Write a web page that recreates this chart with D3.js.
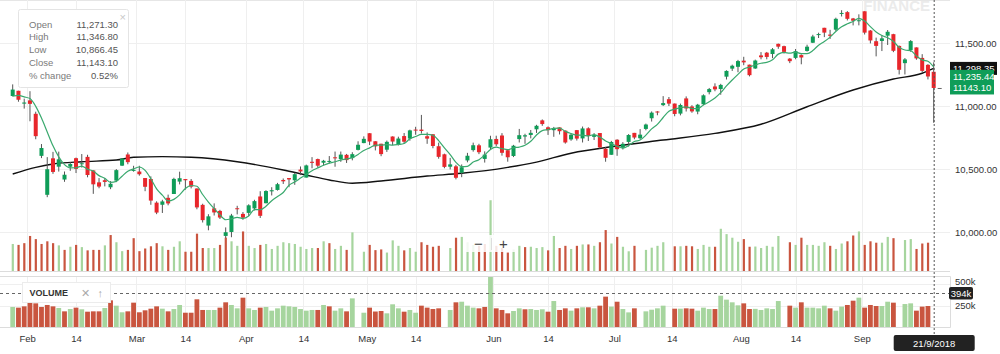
<!DOCTYPE html>
<html>
<head>
<meta charset="utf-8">
<script src="https://cdn.jsdelivr.net/npm/d3@7"></script>
<style>
  body { margin: 0; background: #fff; }
  svg { display: block; font-family: "Helvetica Neue", Helvetica, Arial, "Liberation Sans", sans-serif; }
</style>
</head>
<body>
<div id="chart"></div>
<script>
// trading days shown on the chart
const dates = [
  '2018-01-29','2018-01-30','2018-01-31','2018-02-01','2018-02-02','2018-02-05','2018-02-06','2018-02-07','2018-02-08','2018-02-09',
  '2018-02-12','2018-02-14','2018-02-15','2018-02-16','2018-02-19','2018-02-20','2018-02-21','2018-02-22','2018-02-23','2018-02-26',
  '2018-02-27','2018-02-28','2018-03-01','2018-03-05','2018-03-06','2018-03-07','2018-03-08','2018-03-09','2018-03-12','2018-03-13',
  '2018-03-14','2018-03-15','2018-03-16','2018-03-19','2018-03-20','2018-03-21','2018-03-22','2018-03-23','2018-03-26','2018-03-27',
  '2018-03-28','2018-04-02','2018-04-03','2018-04-04','2018-04-05','2018-04-06','2018-04-09','2018-04-10','2018-04-11','2018-04-12',
  '2018-04-13','2018-04-16','2018-04-17','2018-04-18','2018-04-19','2018-04-20','2018-04-23','2018-04-24','2018-04-25','2018-04-26',
  '2018-04-27','2018-04-30','2018-05-02','2018-05-03','2018-05-04','2018-05-07','2018-05-08','2018-05-09','2018-05-10','2018-05-11',
  '2018-05-14','2018-05-15','2018-05-16','2018-05-17','2018-05-18','2018-05-21','2018-05-22','2018-05-23','2018-05-24','2018-05-25',
  '2018-05-28','2018-05-29','2018-05-30','2018-05-31','2018-06-01','2018-06-04','2018-06-05','2018-06-06','2018-06-07','2018-06-08',
  '2018-06-11','2018-06-12','2018-06-13','2018-06-14','2018-06-15','2018-06-18','2018-06-19','2018-06-20','2018-06-21','2018-06-22',
  '2018-06-25','2018-06-26','2018-06-27','2018-06-28','2018-06-29','2018-07-02','2018-07-03','2018-07-04','2018-07-05','2018-07-06',
  '2018-07-09','2018-07-10','2018-07-11','2018-07-12','2018-07-13','2018-07-16','2018-07-17','2018-07-18','2018-07-19','2018-07-20',
  '2018-07-23','2018-07-24','2018-07-25','2018-07-26','2018-07-27','2018-07-30','2018-07-31','2018-08-01','2018-08-02','2018-08-03',
  '2018-08-06','2018-08-07','2018-08-08','2018-08-09','2018-08-10','2018-08-13','2018-08-14','2018-08-16','2018-08-17','2018-08-20',
  '2018-08-21','2018-08-23','2018-08-24','2018-08-27','2018-08-28','2018-08-29','2018-08-30','2018-08-31','2018-09-03','2018-09-04',
  '2018-09-05','2018-09-06','2018-09-07','2018-09-10','2018-09-11','2018-09-12','2018-09-14','2018-09-17','2018-09-18','2018-09-19',
  '2018-09-21'
];

const open = [
  11079.35, 11120.85, 11018.80, 11044.55, 10938.20, 10604.30, 10295.15, 10584.70, 10518.50, 10416.50,
  10518.15, 10585.75, 10537.90, 10596.20, 10488.90, 10394.00, 10411.00, 10355.00, 10408.10, 10526.55,
  10615.20, 10488.95, 10479.85, 10428.30, 10420.50, 10232.95, 10216.25, 10271.30, 10301.60, 10400.00,
  10420.00, 10405.45, 10345.15, 10215.35, 10051.10, 10187.90, 10167.30, 9968.80, 10000.10, 10188.45,
  10143.60, 10151.65, 10186.90, 10282.00, 10228.45, 10322.75, 10333.70, 10412.90, 10428.15, 10410.65,
  10495.25, 10431.90, 10557.30, 10578.90, 10550.00, 10560.40, 10592.80, 10578.90, 10612.40, 10586.50,
  10651.65, 10705.75, 10783.85, 10720.15, 10700.45, 10653.15, 10757.90, 10693.35, 10761.40, 10741.40,
  10812.75, 10812.70, 10760.00, 10775.60, 10680.60, 10616.70, 10518.00, 10521.10, 10470.00, 10568.00,
  10650.00, 10688.00, 10580.00, 10670.10, 10738.45, 10765.85, 10649.00, 10603.35, 10737.55, 10757.90,
  10770.00, 10815.00, 10886.00, 10830.90, 10808.00, 10830.00, 10804.85, 10734.65, 10808.45, 10742.70,
  10822.90, 10755.00, 10785.45, 10660.70, 10612.85, 10732.35, 10668.65, 10715.00, 10786.70, 10744.15,
  10818.00, 10902.75, 10956.40, 11006.95, 11054.30, 11019.35, 10939.70, 11060.20, 10996.10, 10956.00,
  11014.10, 11109.80, 11155.00, 11135.00, 11232.75, 11296.50, 11311.00, 11359.80, 11328.10, 11297.80,
  11401.50, 11423.15, 11412.50, 11493.25, 11474.95, 11376.00, 11381.70, 11404.00, 11437.15, 11502.10,
  11563.00, 11620.70, 11566.60, 11605.85, 11731.95, 11744.95, 11694.75, 11675.85, 11751.80, 11598.75,
  11514.15, 11516.00, 11558.25, 11570.20, 11476.85, 11340.10, 11443.50, 11464.95, 11381.55, 11326.65,
  11271.30
];

const high = [
  11171.55, 11121.10, 11058.40, 11117.35, 10954.95, 10698.10, 10594.15, 10636.00, 10637.80, 10480.20,
  10555.50, 10590.55, 10618.90, 10612.90, 10489.35, 10428.00, 10428.00, 10404.00, 10499.10, 10586.50,
  10631.20, 10525.50, 10525.50, 10428.60, 10441.35, 10243.35, 10255.75, 10296.70, 10430.55, 10478.60,
  10420.35, 10420.35, 10346.30, 10224.40, 10141.15, 10227.30, 10175.95, 10036.40, 10143.95, 10207.90,
  10158.35, 10220.10, 10255.65, 10323.90, 10331.80, 10355.35, 10389.80, 10424.85, 10428.15, 10469.80,
  10519.90, 10534.75, 10594.20, 10582.35, 10572.20, 10602.80, 10638.35, 10638.55, 10619.55, 10633.10,
  10719.80, 10759.00, 10784.65, 10720.60, 10700.45, 10725.65, 10759.05, 10756.40, 10785.55, 10812.05,
  10834.85, 10929.20, 10790.45, 10777.25, 10709.10, 10621.70, 10588.25, 10533.05, 10536.05, 10628.00,
  10709.25, 10700.00, 10640.00, 10763.80, 10764.15, 10784.65, 10650.20, 10691.45, 10818.00, 10779.65,
  10809.60, 10850.60, 10893.25, 10837.85, 10834.00, 10830.40, 10805.25, 10781.80, 10809.60, 10837.00,
  10831.05, 10785.00, 10785.45, 10674.75, 10723.05, 10736.15, 10713.30, 10777.15, 10786.70, 10816.35,
  10860.35, 10956.90, 10959.10, 11078.30, 11071.35, 11019.50, 11018.95, 11076.20, 11006.50, 11016.75,
  11092.50, 11143.20, 11180.00, 11175.85, 11283.40, 11328.10, 11366.00, 11390.55, 11328.10, 11368.00,
  11427.65, 11428.95, 11459.95, 11495.20, 11478.75, 11380.00, 11452.45, 11410.00, 11486.45, 11565.30,
  11581.75, 11620.70, 11604.60, 11700.95, 11760.20, 11753.20, 11698.80, 11727.65, 11751.80, 11602.55,
  11542.65, 11562.25, 11603.00, 11573.00, 11479.40, 11380.75, 11523.25, 11464.95, 11411.45, 11332.05,
  11346.80
];

const low = [
  11075.95, 11033.90, 10979.30, 10878.80, 10736.10, 10586.50, 10276.30, 10461.55, 10479.55, 10398.20,
  10485.60, 10468.00, 10511.40, 10434.05, 10302.75, 10347.00, 10362.00, 10340.00, 10396.00, 10523.60,
  10537.60, 10478.60, 10447.15, 10323.90, 10215.90, 10141.55, 10151.00, 10211.90, 10301.60, 10377.85,
  10336.00, 10346.20, 10180.25, 10075.30, 10013.60, 10130.95, 10103.10, 9951.90, 9958.55, 10139.70,
  10096.50, 10127.75, 10171.20, 10111.30, 10227.45, 10290.00, 10328.50, 10381.10, 10355.60, 10374.50,
  10451.50, 10432.00, 10505.80, 10509.70, 10528.00, 10544.00, 10518.00, 10557.00, 10548.00, 10568.80,
  10647.55, 10704.60, 10689.80, 10647.45, 10601.60, 10635.65, 10689.40, 10686.35, 10699.60, 10724.45,
  10771.75, 10781.40, 10699.70, 10664.60, 10581.80, 10505.80, 10496.60, 10417.80, 10435.00, 10553.00,
  10637.80, 10618.00, 10551.00, 10655.30, 10681.00, 10605.80, 10558.00, 10594.55, 10710.45, 10699.90,
  10743.15, 10786.00, 10842.65, 10770.35, 10755.70, 10774.10, 10701.20, 10724.05, 10725.90, 10710.45,
  10722.25, 10730.00, 10661.25, 10557.70, 10612.35, 10604.65, 10654.75, 10677.75, 10736.10, 10735.05,
  10807.05, 10876.65, 10926.35, 10999.65, 10999.55, 10918.45, 10925.60, 10956.30, 10946.20, 10934.35,
  11006.95, 11092.50, 11117.00, 11089.30, 11210.35, 11278.35, 11267.75, 11323.60, 11234.95, 11294.55,
  11370.60, 11370.60, 11379.30, 11454.10, 11416.10, 11340.30, 11370.80, 11331.00, 11431.70, 11499.65,
  11539.60, 11546.70, 11532.00, 11595.60, 11710.50, 11678.85, 11639.70, 11640.10, 11567.40, 11496.85,
  11393.85, 11436.05, 11484.40, 11427.30, 11250.20, 11250.20, 11430.55, 11366.90, 11268.95, 11210.90,
  10866.45
];

const close = [
  11130.40, 11049.65, 11027.70, 11016.90, 10760.60, 10666.55, 10498.25, 10476.70, 10576.85, 10454.55,
  10539.75, 10500.90, 10545.50, 10452.30, 10378.40, 10360.40, 10397.45, 10382.70, 10491.05, 10582.60,
  10554.30, 10492.85, 10458.35, 10358.85, 10249.25, 10154.20, 10242.65, 10226.85, 10421.40, 10426.85,
  10410.90, 10360.15, 10195.15, 10094.25, 10124.35, 10155.25, 10114.75, 9998.05, 10130.65, 10184.15,
  10113.70, 10211.80, 10245.00, 10128.40, 10325.15, 10331.60, 10379.35, 10402.25, 10417.15, 10458.65,
  10480.60, 10528.35, 10548.70, 10526.20, 10565.30, 10564.05, 10584.70, 10614.35, 10570.55, 10617.80,
  10692.30, 10739.35, 10718.05, 10679.65, 10618.25, 10715.50, 10717.80, 10741.70, 10716.55, 10806.50,
  10806.60, 10801.85, 10741.10, 10682.70, 10596.40, 10516.70, 10536.70, 10430.35, 10513.85, 10605.15,
  10688.65, 10633.30, 10614.35, 10736.15, 10696.20, 10628.50, 10593.15, 10684.65, 10768.35, 10767.65,
  10786.95, 10842.85, 10856.70, 10808.05, 10817.70, 10799.85, 10710.45, 10772.05, 10741.10, 10821.85,
  10762.45, 10769.15, 10671.40, 10589.10, 10714.30, 10657.30, 10699.90, 10769.90, 10749.75, 10772.65,
  10852.90, 10947.25, 10948.30, 11023.20, 11018.90, 10936.85, 11008.05, 10980.45, 10957.10, 11010.20,
  11084.75, 11134.30, 11132.00, 11167.30, 11278.35, 11319.55, 11356.50, 11346.20, 11244.70, 11360.80,
  11387.10, 11389.45, 11450.00, 11470.70, 11429.50, 11355.75, 11435.10, 11385.05, 11470.75, 11551.75,
  11570.90, 11582.35, 11557.10, 11691.95, 11738.50, 11691.90, 11676.80, 11680.50, 11582.35, 11520.30,
  11476.95, 11536.90, 11589.10, 11438.10, 11287.50, 11369.90, 11515.20, 11377.75, 11278.90, 11234.35,
  11143.10
];

// closes of the four sessions before the first candle (for the 5-day average)
const priorCloses = [11016.90, 11083.70, 11086.00, 11069.65];

// volume in thousands, null where no bar is drawn
const volume = [
  233, 225, 240, 302, 275, 233, 256, 240, 221, 182,
  209, 225, 206, 178, 182, 182, 221, 310, 248, 171,
  182, 283, 171, 194, 213, 240, 213, 182, 209, 256,
  166, 166, 322, 198, 198, 198, 225, 287, 256, 217,
  341, 217, 198, 225, 233, 190, 217, 248, 240, 233,
  209, 190, 198, 198, 256, 240, 190, 217, 182, 333,
  null, 166, 225, 180, 186, 159, 264, 217, 178, 198,
  166, 248, 225, 209, 217, null, 198, 287, 294, 248,
  225, 217, 233, 610, 217, 198, 159, 186, 217, 206,
  209, 198, 206, 178, 302, 198, 217, 190, 217, 229,
  229, 217, 248, 353, 237, 294, 209, 170, 217, null,
  182, 201, 217, 248, null, 213, 213, 217, 213, 190,
  225, 209, 209, 364, 318, 287, 252, 275, 209, 211,
  198, 217, 209, 302, null, 248, 225, 287, 225, 225,
  217, 248, 217, 190, 237, 256, 306, 341, 225, 256,
  244, 244, 294, 283, null, 267, 275, 190, 237, 244,
  null
];

// long moving average (black line)
const maDates = [
  '2018-01-29','2018-02-02','2018-02-07','2018-02-15','2018-02-23','2018-02-28','2018-03-08','2018-03-15',
  '2018-03-27','2018-04-10','2018-04-16','2018-04-20','2018-04-26','2018-05-04','2018-05-16','2018-05-24',
  '2018-06-05','2018-06-12','2018-06-20','2018-07-02','2018-07-12','2018-07-25','2018-08-06','2018-08-17',
  '2018-08-30','2018-09-10','2018-09-18','2018-09-21'
];
const maValues = [
  10460, 10513, 10540, 10558, 10571, 10593, 10598, 10593,
  10558, 10492, 10452, 10413, 10387, 10405, 10444, 10466,
  10513, 10555, 10625, 10683, 10730, 10783, 10855, 10994,
  11127, 11214, 11260, 11298.35
];

const tickDates = ['2018-02-01','2018-02-14','2018-03-01','2018-03-14','2018-04-01','2018-04-14','2018-05-01','2018-05-14',
  '2018-06-01','2018-06-14','2018-07-01','2018-07-14','2018-08-01','2018-08-14','2018-09-01'];
const tickLabels = ['Feb','14','Mar','14','Apr','14','May','14','Jun','14','Jul','14','Aug','14','Sep'];

const priceTicks = [10000, 10500, 11000, 11500];
const volumeTicks = [250, 500];

const infoLabels = ['Open', 'High', 'Low', 'Close', '% change'];
const infoValues = ['11,271.30', '11,346.80', '10,866.45', '11,143.10', '0.52%'];

const markerValues = [11298.35, 11235.44, 11143.10];
const markerTexts = ['11,298.35', '11,235.44', '11143.10'];
const hoverVolume = 394;
const hoverLabel = '21/9/2018';

function drawChart(containerId)
{
    const width = 1000;
    const height = 354;
    const plotRight = 950;
    const mainBottom = 271;
    const paneTop = 277;
    const paneBottom = 327;
    const fs = 9.5;

    const green = '#0f9d58';
    const red = '#e8262b';
    const volGreen = '#a6d59e';
    const volRed = '#c9553f';
    const grid = '#efefef';

    const svg = d3.select(containerId)
        .append('svg')
        .attr('width', width)
        .attr('height', height);

    // scales
    const x = d3.scaleLinear()
        .domain([0, dates.length - 1])
        .range([12.7, 933.7]);

    const y = d3.scaleLinear()
        .domain([10000, 11500])
        .range([232, 43]);

    const vy = d3.scaleLinear()
        .domain([0, 500])
        .range([paneBottom, 284]);

    const oy = d3.scaleLinear()
        .domain([0, 500])
        .range([mainBottom, 213]);

    // tick positions: months sit on the boundary, the 14th on its session
    const tickPos = tickDates.map((d, k) => {
        const i = dates.findIndex(v => v >= d);
        return (dates[i] === d && /^\d/.test(tickLabels[k])) ? i : i - 0.5;
    });

    // watermark
    svg.append('text')
        .attr('x', 930)
        .attr('y', 10.5)
        .attr('text-anchor', 'end')
        .attr('font-size', 15)
        .attr('font-weight', 'bold')
        .attr('fill', '#ebebeb')
        .text('FINANCE');

    // grid
    svg.append('line')
        .attr('x1', 0).attr('x2', plotRight)
        .attr('y1', 0.5).attr('y2', 0.5)
        .attr('stroke', '#e6e6e6');

    svg.append('g')
        .selectAll('line')
        .data(priceTicks)
        .enter()
        .append('line')
        .attr('x1', 0).attr('x2', plotRight)
        .attr('y1', d => Math.round(y(d)) + 0.5)
        .attr('y2', d => Math.round(y(d)) + 0.5)
        .attr('stroke', grid);

    svg.append('g')
        .selectAll('line')
        .data(volumeTicks)
        .enter()
        .append('line')
        .attr('x1', 0).attr('x2', plotRight)
        .attr('y1', d => Math.round(vy(d)) + 0.5)
        .attr('y2', d => Math.round(vy(d)) + 0.5)
        .attr('stroke', grid);

    const vgrid = svg.append('g');
    tickPos.forEach(p => {
        const px = Math.round(x(p)) + 0.5;
        vgrid.append('line').attr('x1', px).attr('x2', px).attr('y1', 0).attr('y2', mainBottom).attr('stroke', grid);
        vgrid.append('line').attr('x1', px).attr('x2', px).attr('y1', paneTop).attr('y2', paneBottom).attr('stroke', grid);
    });

    // frames
    svg.append('line')
        .attr('x1', 0).attr('x2', plotRight)
        .attr('y1', mainBottom + 0.5).attr('y2', mainBottom + 0.5)
        .attr('stroke', '#dcdcdc');

    svg.append('path')
        .attr('d', `M0,${paneTop - 0.5}H${plotRight + 0.5}V${paneBottom + 0.5}H0`)
        .attr('fill', 'none')
        .attr('stroke', '#dcdcdc');

    // colour of a volume bar follows the change from the previous close
    const prevClose = i => i === 0 ? priorCloses[priorCloses.length - 1] : close[i - 1];
    const volColor = i => close[i] >= prevClose(i) ? volGreen : volRed;

    const idx = d3.range(dates.length).filter(i => volume[i] != null);

    // volume overlay in the price chart
    svg.append('g')
        .selectAll('rect')
        .data(idx)
        .enter()
        .append('rect')
        .attr('x', i => x(i) - 1)
        .attr('width', 2.2)
        .attr('y', i => oy(volume[i]))
        .attr('height', i => mainBottom - oy(volume[i]))
        .attr('fill', volColor);

    // volume pane
    svg.append('g')
        .selectAll('rect')
        .data(idx)
        .enter()
        .append('rect')
        .attr('x', i => x(i) - 2.4)
        .attr('width', 4.8)
        .attr('y', i => Math.max(paneTop, vy(volume[i])))
        .attr('height', i => paneBottom - Math.max(paneTop, vy(volume[i])))
        .attr('fill', volColor);

    // moving averages
    const allCloses = priorCloses.concat(close);
    const sma = close.map((c, i) => d3.mean(allCloses.slice(i, i + 5)));

    svg.append('path')
        .datum(maDates.map((d, k) => [dates.indexOf(d), maValues[k]]))
        .attr('fill', 'none')
        .attr('stroke', '#111')
        .attr('stroke-width', 1.4)
        .attr('d', d3.line().x(d => x(d[0])).y(d => y(d[1])).curve(d3.curveMonotoneX));

    // candles
    const candles = svg.append('g')
        .selectAll('g')
        .data(d3.range(dates.length))
        .enter()
        .append('g');

    candles.append('line')
        .attr('x1', i => x(i))
        .attr('x2', i => x(i))
        .attr('y1', i => y(high[i]))
        .attr('y2', i => y(low[i]))
        .attr('stroke', '#555')
        .attr('stroke-width', 1);

    candles.append('rect')
        .attr('x', i => x(i) - 2)
        .attr('width', 4)
        .attr('y', i => y(Math.max(open[i], close[i])))
        .attr('height', i => Math.max(1, Math.abs(y(open[i]) - y(close[i]))))
        .attr('fill', i => close[i] >= open[i] ? green : red);

    svg.append('path')
        .datum(sma)
        .attr('fill', 'none')
        .attr('stroke', '#3aa96e')
        .attr('stroke-width', 1.2)
        .attr('d', d3.line().x((d, i) => x(i)).y(d => y(d)).curve(d3.curveMonotoneX));

    // axes
    const priceAxis = svg.append('g')
        .attr('transform', `translate(${plotRight}, 0)`)
        .call(d3.axisRight(y).tickValues(priceTicks).tickFormat(d3.format(',.2f')).tickSize(0).tickPadding(5));
    priceAxis.select('.domain').remove();
    priceAxis.selectAll('text').attr('font-size', fs).attr('fill', '#333');

    const volAxis = svg.append('g')
        .attr('transform', `translate(${plotRight}, 0)`)
        .call(d3.axisRight(vy).tickValues(volumeTicks).tickFormat(d => d + 'k').tickSize(0).tickPadding(5));
    volAxis.select('.domain').remove();
    volAxis.selectAll('text').attr('font-size', fs).attr('fill', '#333');
    volAxis.selectAll('.tick').filter(d => d === 500).select('text').attr('dy', '0.1em');

    const dateAxis = svg.append('g')
        .attr('transform', `translate(0, ${paneBottom})`)
        .call(d3.axisBottom(x).tickValues(tickPos).tickFormat((d, k) => tickLabels[k]).tickSize(0).tickPadding(8.7));
    dateAxis.select('.domain').remove();
    dateAxis.selectAll('text').attr('font-size', fs).attr('fill', '#333');

    // crosshair
    const last = dates.length - 1;
    svg.append('line')
        .attr('x1', x(last) + 0.5).attr('x2', x(last) + 0.5)
        .attr('y1', 0).attr('y2', 336)
        .attr('stroke', '#555')
        .attr('stroke-dasharray', '2,2');

    svg.append('line')
        .attr('x1', 0).attr('x2', plotRight)
        .attr('y1', Math.round(vy(hoverVolume)) + 0.5).attr('y2', Math.round(vy(hoverVolume)) + 0.5)
        .attr('stroke', '#666')
        .attr('stroke-dasharray', '3,3');

    svg.append('line')
        .attr('x1', x(last) + 4).attr('x2', x(last) + 8)
        .attr('y1', y(close[last]) + 0.5).attr('y2', y(close[last]) + 0.5)
        .attr('stroke', '#666');

    // right-hand value markers
    const markerFill = ['#111', green, green];
    markerValues.forEach((v, k) => {
        const cy = y(v);
        svg.append('rect')
            .attr('x', plotRight)
            .attr('y', cy - 6.5)
            .attr('width', k === 0 ? 47 : 44)
            .attr('height', 13)
            .attr('fill', markerFill[k]);
        svg.append('text')
            .attr('x', plotRight + 3)
            .attr('y', cy + 3.5)
            .attr('font-size', fs)
            .attr('fill', '#fff')
            .text(markerTexts[k]);
    });

    svg.append('rect')
        .attr('x', 949).attr('y', vy(hoverVolume) - 6)
        .attr('width', 24).attr('height', 12.5)
        .attr('rx', 2)
        .attr('fill', '#222');
    svg.append('text')
        .attr('x', 961).attr('y', vy(hoverVolume) + 3.5)
        .attr('text-anchor', 'middle')
        .attr('font-size', fs)
        .attr('fill', '#fff')
        .text(hoverVolume + 'k');

    svg.append('rect')
        .attr('x', x(last) - 40).attr('y', 335)
        .attr('width', 81).attr('height', 16)
        .attr('rx', 2)
        .attr('fill', '#222');
    svg.append('text')
        .attr('x', x(last) + 0.5).attr('y', 346.5)
        .attr('text-anchor', 'middle')
        .attr('font-size', fs)
        .attr('fill', '#fff')
        .text(hoverLabel);

    // OHLC info box
    const info = svg.append('g').attr('transform', 'translate(18.5, 9.5)');
    info.append('rect')
        .attr('width', 110)
        .attr('height', 78)
        .attr('rx', 2)
        .attr('fill', '#fff')
        .attr('stroke', '#e4e4e4');
    info.append('text')
        .attr('x', 101).attr('y', 11)
        .attr('font-size', 11)
        .attr('fill', '#c8c8c8')
        .text('×');
    infoLabels.forEach((l, k) => {
        info.append('text')
            .attr('x', 10.5).attr('y', 18 + k * 12.75)
            .attr('font-size', fs)
            .attr('fill', '#7a7a7a')
            .text(l);
        info.append('text')
            .attr('x', 99.5).attr('y', 18 + k * 12.75)
            .attr('text-anchor', 'end')
            .attr('font-size', fs)
            .attr('fill', '#555')
            .text(infoValues[k]);
    });

    // VOLUME legend
    const legend = svg.append('g').attr('transform', 'translate(22.5, 282.5)');
    legend.append('rect')
        .attr('width', 88)
        .attr('height', 20)
        .attr('fill', '#fff')
        .attr('stroke', '#ececec');
    legend.append('text')
        .attr('x', 7).attr('y', 13.5)
        .attr('font-size', 9)
        .attr('font-weight', 'bold')
        .attr('fill', '#333')
        .text('VOLUME');
    legend.append('text')
        .attr('x', 58).attr('y', 14)
        .attr('font-size', 11)
        .attr('fill', '#aaa')
        .text('✕');
    legend.append('text')
        .attr('x', 75).attr('y', 14)
        .attr('font-size', 11)
        .attr('fill', '#aaa')
        .text('↑');

    // zoom control
    const zoom = svg.append('g').attr('transform', 'translate(466, 235)');
    zoom.append('rect')
        .attr('width', 50)
        .attr('height', 17)
        .attr('fill', '#fff')
        .attr('fill-opacity', 0.85);
    zoom.append('line')
        .attr('x1', 25.5).attr('x2', 25.5)
        .attr('y1', 3).attr('y2', 15)
        .attr('stroke', '#ddd');
    zoom.append('text')
        .attr('x', 12.5).attr('y', 13.5)
        .attr('text-anchor', 'middle')
        .attr('font-size', 15)
        .attr('fill', '#444')
        .text('−');
    zoom.append('text')
        .attr('x', 37.5).attr('y', 13.5)
        .attr('text-anchor', 'middle')
        .attr('font-size', 15)
        .attr('fill', '#444')
        .text('+');
}

drawChart('#chart');
</script>
</body>
</html>
